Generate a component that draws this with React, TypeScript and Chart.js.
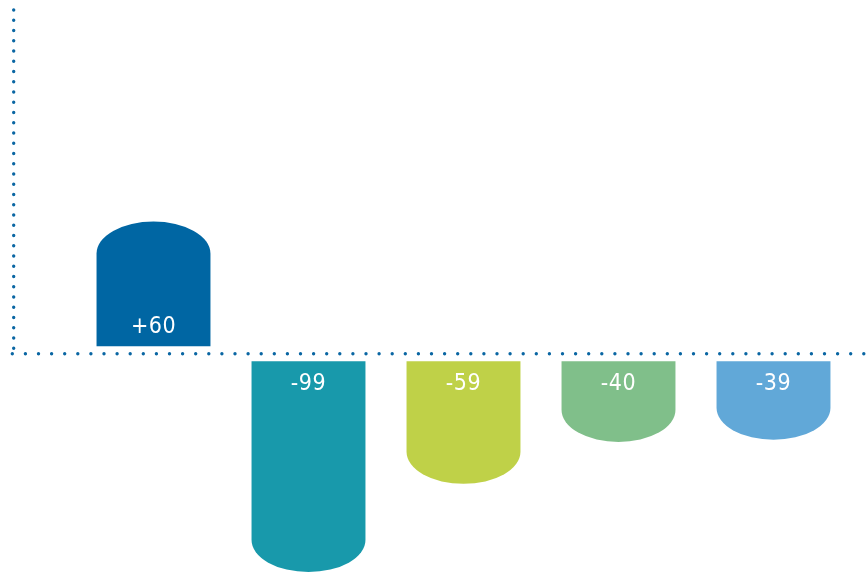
import React, { useEffect, useRef } from "react";
import { Chart, registerables } from "chart.js";

Chart.register(...registerables);

const categories = ["1", "2", "3", "4", "5"];
const values = [60, -99, -59, -40, -39];
const valueLabels = ["+60", "-99", "-59", "-40", "-39"];
const barColors = ["#0066a3", "#1899ab", "#bfd148", "#80bf8a", "#61a8d8"];
const axisColor = "#0a66a3";

const W = 867;
const H = 572;

const shapePlugin = {
  id: "shapeBars",
  beforeDatasetsDraw(chart: any) {
    const ctx = chart.ctx as CanvasRenderingContext2D;
    const yScale = chart.scales.y;
    const zero = yScale.getPixelForValue(0);
    const gap = 7.5;
    const ry = 32;

    // dotted axes
    ctx.save();
    ctx.strokeStyle = axisColor;
    ctx.lineWidth = 3.4;
    ctx.lineCap = "round";
    ctx.setLineDash([0, 10.25]);
    ctx.beginPath();
    ctx.moveTo(13.7, 10);
    ctx.lineTo(13.7, zero - 3);
    ctx.stroke();
    ctx.setLineDash([0, 13.1]);
    ctx.beginPath();
    ctx.moveTo(12.3, zero);
    ctx.lineTo(W, zero);
    ctx.stroke();
    ctx.restore();

    const meta = chart.getDatasetMeta(0);
    meta.data.forEach((el: any, i: number) => {
      const p = el.getProps(["x", "y", "base", "width"], true);
      const half = p.width / 2;
      const left = p.x - half;
      const right = p.x + half;
      const v = values[i];
      ctx.save();
      ctx.fillStyle = barColors[i];
      ctx.beginPath();
      if (v >= 0) {
        const b = zero - gap;
        const cy = p.y + ry;
        ctx.moveTo(left, b);
        ctx.lineTo(left, cy);
        ctx.ellipse(p.x, cy, half, ry, 0, Math.PI, 2 * Math.PI);
        ctx.lineTo(right, b);
      } else {
        const t = zero + gap;
        const cy = p.y - ry;
        ctx.moveTo(left, t);
        ctx.lineTo(right, t);
        ctx.lineTo(right, cy);
        ctx.ellipse(p.x, cy, half, ry, 0, 0, Math.PI);
        ctx.lineTo(left, t);
      }
      ctx.closePath();
      ctx.fill();

      ctx.fillStyle = "#ffffff";
      ctx.font = "23px 'DejaVu Sans Condensed', 'DejaVu Sans', sans-serif";
      (ctx as any).letterSpacing = "0.5px";
      ctx.textAlign = "center";
      ctx.textBaseline = "middle";
      const ty = v >= 0 ? zero - gap - 19 : zero + gap + 23;
      ctx.fillText(valueLabels[i], p.x, ty);
      ctx.restore();
    });
    return false;
  },
};

export default function App() {
  const ref = useRef<HTMLCanvasElement>(null);
  useEffect(() => {
    if (!ref.current) return;
    const chart = new Chart(ref.current, {
      type: "bar",
      data: {
        labels: categories,
        datasets: [
          {
            data: values,
            backgroundColor: barColors,
            barPercentage: 0.735,
            categoryPercentage: 1,
          },
        ],
      },
      options: {
        animation: false,
        responsive: false,
        layout: { padding: { left: 76, right: 16, top: 10, bottom: 0 } },
        plugins: {
          legend: { display: false },
          tooltip: { enabled: false },
        },
        scales: {
          x: { display: false, grid: { display: false } },
          y: { display: false, min: -99, max: 156, grid: { display: false } },
        },
      },
      plugins: [shapePlugin],
    });
    return () => chart.destroy();
  }, []);
  return (
    <div style={{ position: "absolute", left: 0, top: 0, width: W, height: H, background: "#fff" }}>
      <canvas ref={ref} width={W} height={H} style={{ width: W, height: H, display: "block" }} />
    </div>
  );
}
